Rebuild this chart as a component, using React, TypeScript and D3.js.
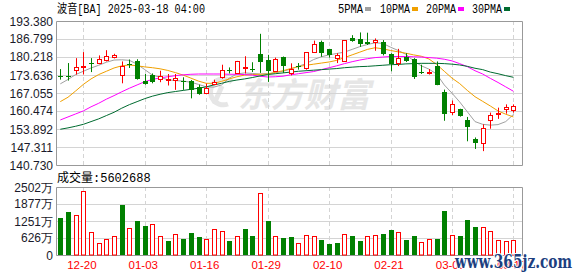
import React from 'react';
import * as d3 from 'd3';

const title = '波音[BA] 2025-03-18 04:00';
const legendNames = ['5PMA', '10PMA', '20PMA', '30PMA'];
const legendColors = ['#a0a0a0', '#f0a000', '#ff00ff', '#006b30'];

const open = [173.2, 173.4, 175.45, 176.4, 177.9, 178.0, 179.3, 180.2, 173.8, 177.6,
  178.8, 171.6, 173.6, 172.2, 172.0, 171.8, 171.3, 171.6, 169.2, 167.1,
  170.5, 172.8, 175.6, 174.4, 176.2, 175.7, 181.2, 179.2, 175.0, 180.4,
  174.2, 177.0, 176.2, 182.2, 185.6, 183.1, 180.0, 178.8, 187.3, 186.8,
  185.8, 185.6, 185.8, 181.2, 177.9, 180.2, 179.5, 174.7, 174.6, 177.0,
  167.5, 160.2, 161.3, 157.3, 150.3, 148.8, 157.2, 159.6, 161.3, 161.0];
const high = [175.8, 178.0, 179.8, 182.0, 179.8, 180.8, 182.7, 181.4, 178.6, 179.3,
  179.4, 174.0, 174.2, 175.2, 174.0, 174.0, 172.8, 171.8, 170.1, 170.5,
  171.9, 177.4, 176.4, 178.8, 180.5, 178.3, 188.7, 181.0, 180.0, 180.4,
  177.9, 178.0, 182.0, 186.2, 186.2, 183.2, 181.6, 186.3, 188.2, 189.2,
  189.1, 187.0, 186.4, 181.6, 183.2, 181.6, 179.8, 177.4, 175.8, 178.6,
  168.3, 164.3, 161.3, 158.3, 150.8, 155.6, 159.9, 161.7, 162.9, 162.9];
const low = [171.95, 171.6, 173.8, 173.8, 174.7, 177.6, 178.6, 179.7, 170.6, 176.2,
  171.95, 170.1, 170.6, 171.0, 169.8, 168.2, 168.2, 165.1, 166.4, 167.0,
  170.1, 172.3, 174.2, 174.2, 174.2, 174.7, 174.4, 171.1, 174.7, 174.4,
  173.5, 175.6, 175.6, 182.2, 180.3, 180.0, 178.0, 178.6, 185.8, 183.9,
  184.6, 182.5, 180.8, 175.0, 176.9, 178.4, 172.2, 174.0, 173.8, 169.9,
  156.9, 159.0, 158.4, 149.4, 146.6, 145.8, 154.0, 157.6, 159.5, 159.9];
const close = [172.9, 172.8, 176.7, 176.9, 177.6, 179.4, 180.5, 180.9, 176.9, 177.4,
  172.2, 170.4, 171.1, 173.3, 172.3, 172.4, 170.9, 168.0, 166.8, 168.9,
  170.9, 175.5, 175.3, 178.8, 176.5, 175.5, 178.3, 175.0, 179.6, 177.1,
  175.8, 176.6, 182.0, 184.9, 181.5, 181.0, 180.8, 186.3, 186.1, 184.9,
  185.1, 186.4, 181.2, 177.6, 180.0, 178.6, 172.9, 174.2, 174.9, 170.1,
  159.5, 163.1, 158.8, 154.7, 148.8, 154.1, 158.9, 159.9, 162.0, 162.3];
// volume in 万股
const volume = [1366, 1574, 1488, 2342, 842, 439, 586, 695, 1842, 988,
  1244, 1061, 1135, 695, 512, 769, 586, 805, 671, 573,
  952, 878, 512, 695, 952, 695, 2294, 1244, 695, 622,
  659, 427, 720, 695, 549, 403, 439, 756, 695, 512,
  695, 720, 769, 915, 830, 549, 695, 464, 586, 586,
  1610, 720, 695, 1281, 1025, 1025, 866, 549, 512, 560.2688];

const ma5 = [170.4, 172.0, 173.8, 175.0, 176.2, 177.2, 178.3, 179.1, 179.2, 179.0,
  177.6, 175.6, 173.6, 172.8, 171.9, 171.6, 171.4, 171.0, 170.2, 169.3,
  169.2, 170.0, 172.5, 174.0, 174.4, 174.2, 174.0, 174.1, 174.4, 175.0,
  175.8, 176.8, 177.8, 179.3, 180.3, 181.0, 181.5, 182.0, 183.0, 184.0,
  184.8, 185.4, 185.2, 183.8, 182.6, 181.2, 178.8, 177.0, 175.8, 174.0,
  170.0, 167.0, 163.8, 160.2, 156.6, 155.6, 155.3, 155.5, 156.6, 159.2];
const ma10 = [163.9, 165.5, 167.8, 170.2, 172.2, 173.8, 175.0, 176.2, 177.0, 177.3,
  177.0, 176.6, 176.3, 175.9, 175.3, 174.5, 173.6, 172.5, 171.4, 170.6,
  170.6, 171.3, 172.2, 173.0, 173.6, 173.8, 173.9, 174.0, 174.6, 175.2,
  176.0, 176.7, 177.2, 177.6, 178.0, 178.4, 179.0, 180.0, 181.0, 182.0,
  183.0, 183.6, 183.2, 182.6, 182.1, 181.6, 181.0, 180.5, 179.5, 177.5,
  175.0, 172.5, 170.5, 168.0, 165.7, 164.0, 162.3, 160.5, 159.3, 158.3];
const ma20 = [157.2, 158.3, 159.4, 160.5, 162.0, 163.3, 164.8, 166.1, 167.5, 168.8,
  170.0, 171.2, 172.0, 172.6, 173.0, 173.4, 173.7, 173.9, 174.0, 174.0,
  174.0, 174.0, 173.9, 173.9, 173.8, 173.6, 173.2, 172.9, 173.0, 173.2,
  173.7, 174.1, 174.5, 174.9, 175.6, 176.3, 177.0, 177.8, 178.5, 179.1,
  179.6, 180.0, 180.2, 180.4, 180.4, 180.4, 180.3, 180.2, 180.0, 179.8,
  179.4, 178.8, 177.8, 176.7, 175.2, 174.0, 172.4, 170.9, 169.3, 167.7];
const ma30 = [153.8, 154.3, 154.9, 155.6, 156.6, 157.6, 158.8, 160.0, 161.5, 162.8,
  163.9, 165.0, 165.9, 166.6, 167.2, 167.6, 168.0, 168.4, 168.8, 169.3,
  170.0, 170.6, 171.3, 171.8, 172.2, 172.7, 173.3, 173.8, 174.1, 174.4,
  174.7, 175.0, 175.2, 175.4, 175.6, 175.8, 176.0, 176.3, 176.5, 176.7,
  176.8, 177.0, 177.2, 177.4, 177.5, 177.7, 177.8, 177.9, 177.9, 177.9,
  177.8, 177.6, 177.3, 176.8, 176.1, 175.6, 174.7, 174.1, 173.4, 172.8];

const priceTicks = [193.38, 186.799, 180.218, 173.636, 167.055, 160.474, 153.892, 147.311, 140.73];
const volumeTicks = [2502, 1877, 1251, 626, 0];
const xTickIndex = [3, 11, 19, 27, 35, 43, 51, 59];
const xTickLabels = ['12-20', '01-03', '01-16', '01-29', '02-10', '02-21', '03-05', '03-17'];

const W = 578, H = 276;
const L = 56, R = 522, T = 21, B = 165, VT = 187, VB = 255;
const RED = '#ff0000', GREEN = '#008000';
const GRID = '#d4d4d4', BORDER = '#999999';
const LABEL_FONT = '"Liberation Sans", Arial, sans-serif';
const CJK_FONT = '"Liberation Mono", "Noto Sans CJK SC", monospace';

export default function App() {
  const x = d3.scaleLinear().domain([0, 59]).range([60.3, 513.4]);
  const y = d3.scaleLinear().domain([140.73, 193.38]).range([B, T]);
  const yv = d3.scaleLinear().domain([0, 2502]).range([VB, VT]);
  const px = (v: number) => Math.round(v) + 0.5;
  const line = d3.line<number>().x((_, i) => x(i)).y(d => y(d));
  const mas = [ma5, ma10, ma20, ma30];

  return (
    <svg width={W} height={H} style={{ position: 'absolute', left: 0, top: 0, background: '#fff' }}>
      {/* watermark */}
      <g fill="none" stroke="#e6e6e6" strokeWidth={5}>
        <path d="M232,82 A13,13 0 1,0 228,104" />
        <path d="M222,86 L214,104" />
      </g>
      <text x={238} y={107} fontSize={34} fontStyle="italic" fontWeight="bold" fill="#e6e6e6"
        fontFamily='"Noto Sans CJK SC", sans-serif' textLength={132} lengthAdjust="spacingAndGlyphs">东方财富</text>

      {/* price grid */}
      {priceTicks.slice(1, -1).map((t, i) => (
        <line key={'hg' + i} x1={L} x2={R} y1={px(y(t))} y2={px(y(t))} stroke={GRID} />
      ))}
      {volumeTicks.slice(1, -1).map((t, i) => (
        <line key={'vg' + i} x1={L} x2={R} y1={px(yv(t))} y2={px(yv(t))} stroke={GRID} />
      ))}
      {xTickIndex.map((idx, i) => (
        <g key={'xg' + i}>
          <line x1={px(x(idx))} x2={px(x(idx))} y1={T} y2={B} stroke={GRID} strokeDasharray="4,3" />
          <line x1={px(x(idx))} x2={px(x(idx))} y1={VT} y2={VB} stroke={GRID} strokeDasharray="4,3" />
        </g>
      ))}

      {/* borders */}
      <path d={`M${L + 0.5},${B + 0.5} V${T + 0.5} H${R + 0.5} V${B + 0.5} H${L + 0.5}`} fill="none" stroke={BORDER} />
      <path d={`M${L + 0.5},${VB + 0.5} V${VT + 0.5} H${R + 0.5} V${VB + 0.5} H${L + 0.5}`} fill="none" stroke={BORDER} />

      {/* MA lines */}
      {mas.map((m, k) => (
        <path key={'ma' + k} d={line(m) || ''} fill="none" stroke={legendColors[k]} strokeWidth={1} />
      ))}

      {/* candles */}
      {close.map((c, i) => {
        const o = open[i];
        const cx = px(x(i));
        const up = c >= o;
        const top = y(Math.max(o, c));
        const bot = y(Math.min(o, c));
        const col = up ? RED : GREEN;
        if (up) {
          const h = Math.max(1, Math.round(bot) - Math.round(top));
          const ty = Math.round(top) + 0.5;
          return (
            <g key={'c' + i}>
              <line x1={cx} x2={cx} y1={y(high[i])} y2={ty} stroke={col} />
              <line x1={cx} x2={cx} y1={ty + h} y2={y(low[i])} stroke={col} />
              <rect x={cx - 2} y={ty} width={4} height={h} fill="#fff" stroke={col} />
            </g>
          );
        }
        const h = Math.max(1, Math.round(bot) - Math.round(top));
        return (
          <g key={'c' + i}>
            <line x1={cx} x2={cx} y1={y(high[i])} y2={y(low[i])} stroke={col} />
            <rect x={cx - 2.5} y={Math.round(top)} width={5} height={h} fill={col} />
          </g>
        );
      })}

      {/* volume bars */}
      {volume.map((v, i) => {
        const cx = px(x(i));
        const prev = i === 0 ? open[0] : close[i - 1];
        const up = close[i] >= prev;
        const ty = Math.round(yv(v));
        if (up) {
          return <rect key={'v' + i} x={cx - 2} y={ty + 0.5} width={4} height={VB - ty - 0.5} fill="#fff" stroke={RED} />;
        }
        return <rect key={'v' + i} x={cx - 2.5} y={ty} width={5} height={VB - ty} fill={GREEN} />;
      })}

      {/* y labels */}
      {priceTicks.map((t, i) => (
        <text key={'yl' + i} x={53} y={y(t) + 4.5} textAnchor="end" fontSize={12} fontFamily={LABEL_FONT} fill="#1a1a2a">{t.toFixed(3)}</text>
      ))}
      {volumeTicks.map((t, i) => (
        <text key={'vl' + i} x={53} y={yv(t) + 4.5} textAnchor="end" fontSize={12} fontFamily={LABEL_FONT} fill="#1a1a2a">{t === 0 ? '0' : t + '万'}</text>
      ))}

      {/* x labels */}
      {xTickIndex.map((idx, i) => (
        <text key={'xl' + i} x={x(idx) - 1.5} y={269} textAnchor="middle" fontSize={11.5} fontFamily={LABEL_FONT} fill={RED}>{xTickLabels[i]}</text>
      ))}

      {/* title and legend */}
      <text x={57} y={12.5} fontSize={12} fontFamily={CJK_FONT} fill="#000" textLength={148} lengthAdjust="spacingAndGlyphs">{title}</text>
      {legendNames.map((n, k) => {
        const starts = [338, 380, 426, 472];
        const widths = [25, 30, 30, 30];
        return (
          <g key={'lg' + k}>
            <text x={starts[k]} y={12.5} fontSize={12} fontFamily={CJK_FONT} fill="#000" textLength={widths[k]} lengthAdjust="spacingAndGlyphs">{n}</text>
            <rect x={starts[k] + widths[k] + 2} y={7} width={6} height={4} fill={legendColors[k]} />
          </g>
        );
      })}
      <text x={57} y={182} fontSize={12} fontFamily={CJK_FONT} fill="#000">
        {'成交量:' + Math.round(volume[volume.length - 1] * 10000)}
      </text>

      {/* site watermark */}
      <text x={455} y={268} fontSize={18} fontWeight="bold" fontFamily='"DejaVu Serif", serif' fill="#1d3f80"
        stroke="#fff" strokeWidth={2} paintOrder="stroke" textLength={117} lengthAdjust="spacingAndGlyphs">www.365jz.com</text>
    </svg>
  );
}
